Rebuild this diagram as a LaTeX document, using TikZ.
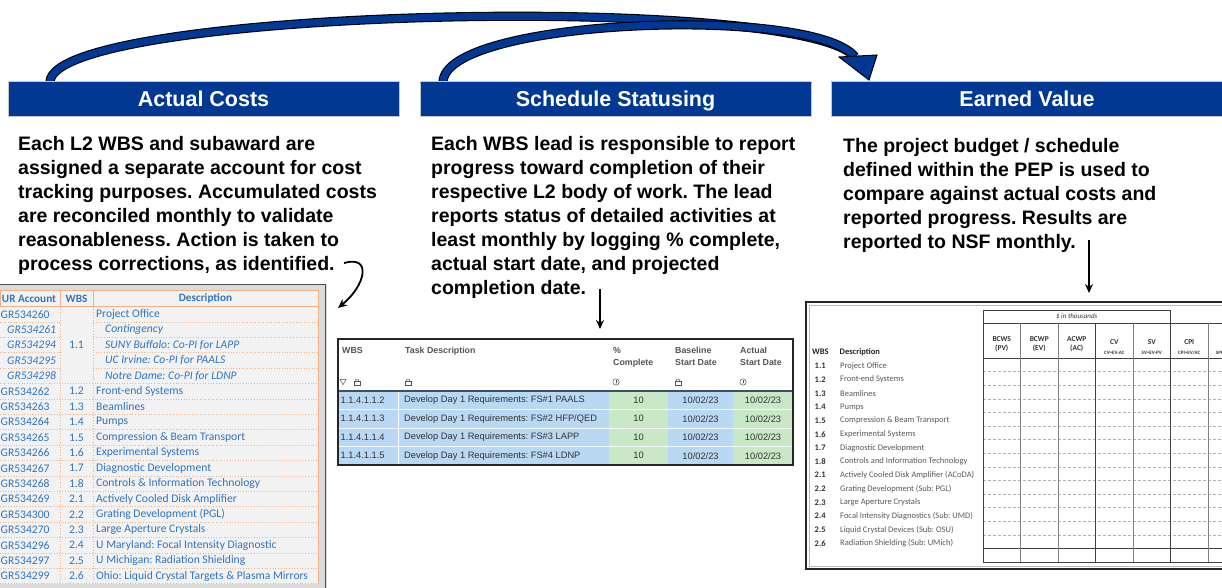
\documentclass[tikz,border=0pt]{standalone}
\usepackage{fontspec}
\setmainfont{Liberation Sans}
\newfontfamily\calfont{Carlito}
\usepackage{tikz}
\usetikzlibrary{positioning,arrows.meta,calc}
\definecolor{barBlue}{HTML}{003894}
\definecolor{acctBlue}{HTML}{2F75C0}
\definecolor{acctLine}{HTML}{F4B183}
\definecolor{acctFill}{HTML}{F2F2F2}
\definecolor{taskBlue}{HTML}{B8D8F4}
\definecolor{taskGreen}{HTML}{C8E8C6}
\definecolor{taskText}{HTML}{333333}
\definecolor{taskRule}{HTML}{3D4F6B}
\definecolor{hdrText}{HTML}{555555}
\definecolor{evText}{HTML}{595959}
\frenchspacing

\begin{document}
\begin{tikzpicture}[x=1pt, y=-1pt,
  bar/.style={fill=barBlue, draw=gray!45, line width=1pt, minimum width=391pt, minimum height=35pt,
    inner sep=0pt, text height=15.5pt, text depth=0pt, text=white, font=\fontsize{21.5}{21.5}\selectfont\bfseries},
  para/.style={anchor=north west, align=left, inner sep=0pt, font=\fontsize{19.5}{24}\selectfont\bfseries},
  pointer/.style={-{Stealth[length=9pt,width=8pt]}, line width=1.8pt},
  bigarrow/.style={draw=black, line width=1.1pt, double=barBlue, double distance=7pt},
  acct/.style={font=\calfont\fontsize{11.6}{12}\selectfont, text=acctBlue, inner sep=0pt},
  acctgrid/.style={acctLine, line width=0.7pt, dotted},
  task/.style={font=\fontsize{9.3}{10}\selectfont, text=taskText, inner sep=0pt},
  taskhdr/.style={font=\fontsize{8.8}{12}\selectfont\bfseries, text=hdrText, inner sep=0pt, anchor=north west, align=left},
  ev/.style={font=\calfont\fontsize{8.5}{9}\selectfont, text=evText, inner sep=0pt, anchor=west},
  evhdr/.style={font=\calfont\fontsize{7.5}{9.5}\selectfont\bfseries, text=black!80, inner sep=0pt, align=center},
  evsmall/.style={font=\calfont\fontsize{5}{6}\selectfont\bfseries, text=black!80, inner sep=0pt},
  evgrid/.style={gray!60, line width=0.4pt, densely dashed},
  lockpic/.pic={
    \draw[hdrText, line width=0.5pt] (-2.8,-0.5) rectangle (2.8,3.5);
    \draw[hdrText, line width=0.5pt, rounded corners=1.2pt] (-1.7,-0.5) -- (-1.7,-3) -- (1.7,-3) -- (1.7,-0.5);
  },
  infopic/.pic={
    \draw[hdrText, line width=0.5pt] (0,0) circle (3.2);
    \draw[hdrText, line width=0.6pt] (0,-1.8) -- (0,0.6);
    \fill[hdrText] (0,1.7) circle (0.45);
  },
  funnelpic/.pic={
    \draw[hdrText, line width=0.5pt] (-3,-2.6) -- (3,-2.6) -- (0,2.8) -- cycle;
  }]
  \useasboundingbox (0,0) rectangle (1222,587);
  \clip (0,0) rectangle (1222,587);

  % flow arrows
  \coordinate (a1s) at (50,82);
  \coordinate (a2s) at (443,82);
  \coordinate (ahead) at (855,57);
  \draw[bigarrow] (a1s) .. controls (52,8) and (800,-8) .. (ahead);
  \draw[bigarrow] (a2s) .. controls (445,18) and (815,5) .. (ahead);
  \filldraw[fill=barBlue, draw=black, line width=1pt] (839,57) -- (877,55) -- (869,80) -- cycle;

  % headers
  \node[bar] (costs) at (203.5,98.5) {Actual Costs};
  \node[bar] (sched) at (615.5,98.5) {Schedule Statusing};
  \node[bar] (earned) at (1027,98.5) {Earned Value};

  % text blocks
  \node[para] (costtxt) at (18,136.5) {Each L2 WBS and subaward are\\assigned a separate account for cost\\tracking purposes. Accumulated costs\\are reconciled monthly to validate\\reasonableness. Action is taken to\\process corrections, as identified.};
  \node[para] (schedtxt) at (431,136.5) {Each WBS lead is responsible to report\\progress toward completion of their\\respective L2 body of work. The lead\\reports status of detailed activities at\\least monthly by logging \% complete,\\actual start date, and projected\\completion date.};
  \node[para] (evtxt) at (843,138.5) {The project budget / schedule\\defined within the PEP is used to\\compare against actual costs and\\reported progress. Results are\\reported to NSF monthly.};

  % pointers
  \coordinate (c1s) at (344,263);
  \coordinate (c1e) at (338,308);
  \draw[pointer] (c1s) .. controls (372,255) and (366,285) .. (c1e);
  \coordinate (c2s) at (600,289);
  \coordinate (c2e) at (600,329);
  \draw[pointer] (c2s) -- (c2e);
  \coordinate (c3s) at (1089,240);
  \coordinate (c3e) at (1089,293);
  \draw[pointer] (c3s) -- (c3e);

  % account table
  \fill[gray!28] (-5,283.5) rectangle (327,600);
  \draw[gray!60!black, line width=1pt] (-5,284) -- (325.5,284) -- (325.5,600);
  \fill[acctFill] (0,290) rectangle (318,584);
  \draw[acctLine, line width=0.8pt] (0,290.5) rectangle (318,306.5);
  \draw[acctLine, line width=0.8pt] (60,290.5) -- (60,306.5) (93,290.5) -- (93,306.5) (318,306.5) -- (318,584);
  \foreach \i in {1,...,4}
    \draw[acctgrid] (0,{306.5+15.4*\i}) -- (60,{306.5+15.4*\i}) (93,{306.5+15.4*\i}) -- (318,{306.5+15.4*\i});
  \foreach \i in {5,...,18}
    \draw[acctgrid] (0,{306.5+15.4*\i}) -- (318,{306.5+15.4*\i});
  \draw[acctgrid] (60,306.5) -- (60,584) (93,306.5) -- (93,584);
  \node[acct, font=\calfont\fontsize{11.2}{12}\selectfont\bfseries] (hacc) at (29,298.5) {UR Account};
  \node[acct, font=\calfont\fontsize{11.2}{12}\selectfont\bfseries] (hwbs) at (76.5,298.5) {WBS};
  \node[acct, font=\calfont\fontsize{11.2}{12}\selectfont\bfseries] (hdesc) at (205.5,298.5) {Description};
  \foreach \acc/\desc/\ind [count=\i from 0] in {
      GR534260/Project Office/0, GR534261/Contingency/1, GR534294/SUNY Buffalo: Co-PI for LAPP/1,
      GR534295/UC Irvine: Co-PI for PAALS/1, GR534298/Notre Dame: Co-PI for LDNP/1,
      GR534262/Front-end Systems/0, GR534263/Beamlines/0, GR534264/Pumps/0,
      GR534265/Compression \& Beam Transport/0, GR534266/Experimental Systems/0,
      GR534267/Diagnostic Development/0, GR534268/Controls \& Information Technology/0,
      GR534269/Actively Cooled Disk Amplifier/0, GR534300/Grating Development (PGL)/0,
      GR534270/Large Aperture Crystals/0, GR534296/U Maryland: Focal Intensity Diagnostic/0,
      GR534297/U Michigan: Radiation Shielding/0, GR534299/Ohio: Liquid Crystal Targets \& Plasma Mirrors/0} {
    \node[acct, anchor=west] (acc\i) at ({0.5+6.5*\ind},{314.2+15.4*\i}) {\ifnum\ind=1 \itshape\fi\acc};
    \node[acct, anchor=west] (dsc\i) at ({96+9*\ind},{314.2+15.4*\i}) {\ifnum\ind=1 \itshape\fi\desc};
  }
  \node[acct] (wbs0) at (76.5,{314.2+15.4*2}) {1.1};
  \foreach \w [count=\i from 5] in {1.2,1.3,1.4,1.5,1.6,1.7,1.8,2.1,2.2,2.3,2.4,2.5,2.6}
    \node[acct] (wbs\i) at (76.5,{314.2+15.4*\i}) {\w};

  % schedule table
  \fill[white] (338,339) rectangle (793,465);
  \fill[taskBlue] (338,391) rectangle (609,465);
  \fill[taskGreen] (609,391) rectangle (668,465);
  \fill[taskBlue] (668,391) rectangle (733,465);
  \fill[taskGreen] (733,391) rectangle (793,465);
  \draw[white, line width=0.6pt] (398,391) -- (398,465);
  \foreach \n in {1,2,3}
    \draw[white!85!taskBlue, line width=0.5pt] (338,{391+18.5*\n}) -- (793,{391+18.5*\n});
  \draw[taskRule, line width=1.2pt] (338,391) -- (793,391);
  \draw[gray!30!black, line width=1.3pt] (338,339) rectangle (793,465);
  \node[taskhdr] (hw) at (342,347) {WBS};
  \node[taskhdr] (ht) at (405,347) {Task Description};
  \node[taskhdr] (hp) at (613,347) {\%\\Complete};
  \node[taskhdr] (hb) at (675,347) {Baseline\\Start Date};
  \node[taskhdr] (ha) at (740,347) {Actual\\Start Date};
  \pic at (343,382) {funnelpic};
  \pic at (357,382) {lockpic};
  \pic at (408,382) {lockpic};
  \pic at (616,382) {infopic};
  \pic at (678,382) {lockpic};
  \pic at (743,382) {infopic};
  \foreach \t [count=\n] in {PAALS, HFP/QED, LAPP, LDNP} {
    \pgfmathtruncatemacro{\m}{\n+1}
    \node[task, anchor=west] (tw\n) at (340.5,{381.75+18.5*\n}) {1.1.4.1.1.\m};
    \node[task, anchor=west] (td\n) at (404,{381.75+18.5*\n}) {Develop Day 1 Requirements: FS\#\n\ \t};
    \node[task] (tp\n) at (638.5,{381.75+18.5*\n}) {10};
    \node[task] (tb\n) at (700.5,{381.75+18.5*\n}) {10/02/23};
    \node[task] (ta\n) at (763,{381.75+18.5*\n}) {10/02/23};
  }

  % earned value table
  \fill[white] (806,302) rectangle (1240,569);
  \draw[black!85, line width=1.2pt] (806,302) rectangle (1240,569);
  \draw[gray!55, line width=0.8pt] (809,305) rectangle (1240,566);
  \draw[black!75, line width=0.7pt] (983,310) rectangle (1170.5,323);
  \node[evsmall, font=\calfont\fontsize{7}{8}\selectfont\itshape] (evk) at (1076.75,316.5) {\$ in thousands};
  \draw[black!75, line width=0.7pt] (1170.5,323) -- (1240,323);
  \foreach \k in {1,...,14}
    \draw[evgrid] (983,{358+13.6*\k}) -- (1240,{358+13.6*\k});
  \draw[black!75, line width=0.7pt] (983,358) -- (1240,358) (983,548.4) -- (1240,548.4) (983,562) -- (1240,562);
  \foreach \x in {1020.5,1058,1133,1208}
    \draw[black!50, line width=0.5pt] (\x,323) -- (\x,562);
  \draw[black!75, line width=0.7pt] (1095.5,323) -- (1095.5,562);
  \foreach \x in {983,1170.5}
    \draw[black!75, line width=0.7pt] (\x,310) -- (\x,562);
  \foreach \a/\b [count=\k from 0] in {BCWS/(PV), BCWP/(EV), ACWP/(AC)}
    \node[evhdr] (evh\k) at ({1001.75+37.5*\k},344) {\a\\\b};
  \foreach \a/\b [count=\k from 3] in {CV/CV=EV-AC, SV/SV=EV-PV, CPI/CPI=EV\slash AC, SPI/SPI=EV\slash PV} {
    \node[evhdr] (evh\k) at ({1001.75+37.5*\k},342) {\a};
    \node[evsmall] (evf\k) at ({1001.75+37.5*\k},353) {\b};
  }
  \node[ev, text=black!85, font=\calfont\fontsize{8.5}{9}\selectfont\bfseries] (evw) at (812,352) {WBS};
  \node[ev, text=black!85, font=\calfont\fontsize{8.5}{9}\selectfont\bfseries] (evd) at (839.5,352) {Description};
  \foreach \w/\d [count=\i from 0] in {1.1/Project Office, 1.2/Front-end Systems, 1.3/Beamlines, 1.4/Pumps,
      1.5/Compression \& Beam Transport, 1.6/Experimental Systems, 1.7/Diagnostic Development,
      1.8/Controls and Information Technology, 2.1/Actively Cooled Disk Amplifier (ACoDA),
      2.2/Grating Development (Sub: PGL), 2.3/Large Aperture Crystals,
      2.4/Focal Intensity Diagnostics (Sub: UMD), 2.5/Liquid Crystal Devices (Sub: OSU),
      2.6/Radiation Shielding (Sub: UMich)} {
    \node[ev, text=black!80, font=\calfont\fontsize{8.5}{9}\selectfont\bfseries] (evn\i) at (814.5,{366+13.65*\i}) {\w};
    \node[ev] (evt\i) at (840,{366+13.65*\i}) {\d};
  }
\end{tikzpicture}
\end{document}
